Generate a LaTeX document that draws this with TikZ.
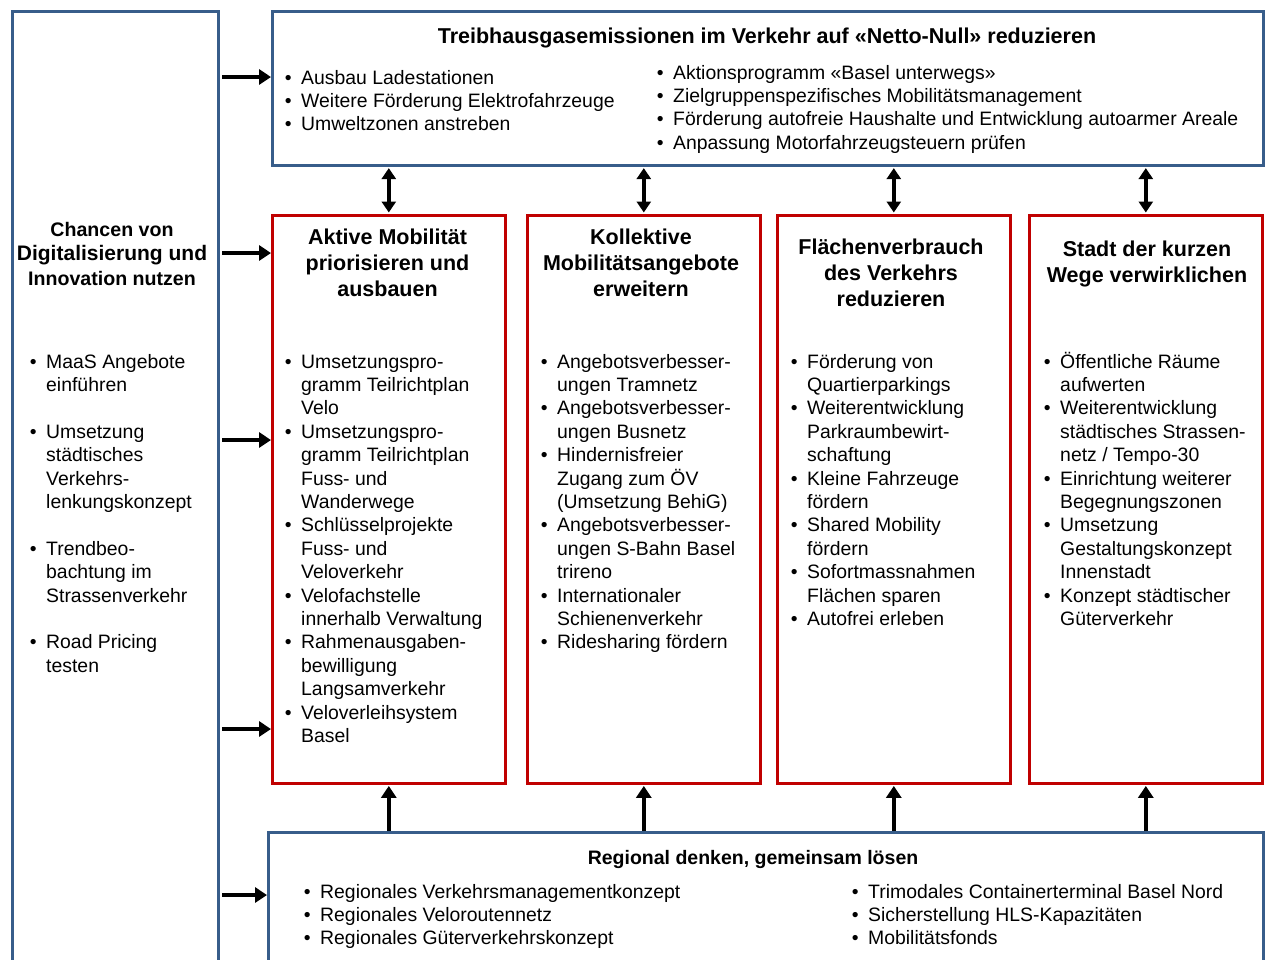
\documentclass[tikz,border=0pt]{standalone}
\usepackage{fontspec}
\setmainfont{Liberation Sans}
\usetikzlibrary{arrows.meta}

\definecolor{boxblue}{RGB}{56,93,138}
\definecolor{boxred}{RGB}{192,0,0}

% bullet hanging left of the item text
\newcommand{\itm}{\llap{\textbullet\hspace{9.5pt}}}

\tikzset{
  bluebox/.style={draw=boxblue, line width=2.6pt, anchor=north west, inner sep=0pt},
  redbox/.style={draw=boxred, line width=2.6pt, anchor=north west, inner sep=0pt,
    minimum width=233pt, minimum height=568pt},
  titletext/.style={font=\fontsize{21.5}{25.8}\selectfont\bfseries, align=center, anchor=base, inner sep=0pt},
  listtext/.style={font=\fontsize{19.4}{23.4}\selectfont, align=left, anchor=base west, inner sep=0pt},
  arr/.style={line width=4pt, -{Triangle[length=12pt,width=15pt]}},
  dblarr/.style={line width=3.5pt, {Triangle[length=11pt,width=14pt]}-{Triangle[length=11pt,width=14pt]}},
}

\begin{document}
\begin{tikzpicture}[x=1pt, y=-1pt]
\useasboundingbox (0,0) rectangle (1265,959);

% text nodes are placed at the baseline of their last line

%Left box: digitalisation
\node [bluebox, minimum width=206pt, minimum height=990pt] (digital) at (11,10) {};
\node [titletext, font=\fontsize{19.6}{24.5}\selectfont\bfseries] (digitaltitle) at (112,285)
  {Chancen von\\{\fontsize{21}{24.5}\selectfont Digitalisierung und}\\Innovation nutzen};
\node [listtext] (digitallist) at (46,672.2)
  {\itm MaaS Angebote\\einführen\\[23.4pt]
   \itm Umsetzung\\städtisches\\Verkehrs-\\lenkungskonzept\\[23.4pt]
   \itm Trendbeo-\\bachtung im\\Strassenverkehr\\[23.4pt]
   \itm Road Pricing\\testen};

%Top box: Netto-Null
\node [bluebox, minimum width=991pt, minimum height=154pt] (netto) at (271,10) {};
\node [titletext, font=\fontsize{21.5}{25}\selectfont\bfseries] (nettotitle) at (767,43)
  {Treibhausgasemissionen im Verkehr auf «Netto-Null» reduzieren};
\node [listtext] (nettolistA) at (301,130.8)
  {\itm Ausbau Ladestationen\\
   \itm Weitere Förderung Elektrofahrzeuge\\
   \itm Umweltzonen anstreben};
\node [listtext] (nettolistB) at (673,149.2)
  {\itm Aktionsprogramm «Basel unterwegs»\\
   \itm Zielgruppenspezifisches Mobilitätsmanagement\\
   \itm Förderung autofreie Haushalte und Entwicklung autoarmer Areale\\
   \itm Anpassung Motorfahrzeugsteuern prüfen};

%Red boxes
\node [redbox] (aktiv) at (271,214) {};
\node [redbox] (kollektiv) at (526,214) {};
\node [redbox] (flaeche) at (776,214) {};
\node [redbox] (stadt) at (1028,214) {};

%Aktive Mobilitaet
\node [titletext] (aktivtitle) at (387.5,296)
  {Aktive Mobilität\\priorisieren und\\ausbauen};
\node [listtext] (aktivlist) at (301,742.4)
  {\itm Umsetzungspro-\\gramm Teilrichtplan\\Velo\\
   \itm Umsetzungspro-\\gramm Teilrichtplan\\Fuss- und\\Wanderwege\\
   \itm Schlüsselprojekte\\Fuss- und\\Veloverkehr\\
   \itm Velofachstelle\\innerhalb Verwaltung\\
   \itm Rahmenausgaben-\\bewilligung\\Langsamverkehr\\
   \itm Veloverleihsystem\\Basel};

%Kollektive Mobilitaetsangebote
\node [titletext] (kollektivtitle) at (641,296)
  {Kollektive\\Mobilitätsangebote\\erweitern};
\node [listtext] (kollektivlist) at (557,648.8)
  {\itm Angebotsverbesser-\\ungen Tramnetz\\
   \itm Angebotsverbesser-\\ungen Busnetz\\
   \itm Hindernisfreier\\Zugang zum ÖV\\(Umsetzung BehiG)\\
   \itm Angebotsverbesser-\\ungen S-Bahn Basel\\trireno\\
   \itm Internationaler\\Schienenverkehr\\
   \itm Ridesharing fördern};

%Flaechenverbrauch
\node [titletext] (flaechetitle) at (891,306)
  {Flächenverbrauch\\des Verkehrs\\reduzieren};
\node [listtext] (flaechelist) at (807,625.4)
  {\itm Förderung von\\Quartierparkings\\
   \itm Weiterentwicklung\\Parkraumbewirt-\\schaftung\\
   \itm Kleine Fahrzeuge\\fördern\\
   \itm Shared Mobility\\fördern\\
   \itm Sofortmassnahmen\\Flächen sparen\\
   \itm Autofrei erleben};

%Stadt der kurzen Wege
\node [titletext] (stadttitle) at (1147,282)
  {Stadt der kurzen\\Wege verwirklichen};
\node [listtext] (stadtlist) at (1060,625.4)
  {\itm Öffentliche Räume\\aufwerten\\
   \itm Weiterentwicklung\\städtisches Strassen-\\netz / Tempo-30\\
   \itm Einrichtung weiterer\\Begegnungszonen\\
   \itm Umsetzung\\Gestaltungskonzept\\Innenstadt\\
   \itm Konzept städtischer\\Güterverkehr};

%Bottom box: regional
\node [bluebox, minimum width=995pt, minimum height=200pt] (regional) at (267,831) {};
\node [titletext, font=\fontsize{19.5}{23.4}\selectfont\bfseries] (regionaltitle) at (753,864)
  {Regional denken, gemeinsam lösen};
\node [listtext] (regionallistA) at (320,944.8)
  {\itm Regionales Verkehrsmanagementkonzept\\
   \itm Regionales Veloroutennetz\\
   \itm Regionales Güterverkehrskonzept};
\node [listtext] (regionallistB) at (868,944.8)
  {\itm Trimodales Containerterminal Basel Nord\\
   \itm Sicherstellung HLS-Kapazitäten\\
   \itm Mobilitätsfonds};

%Arrows from the left box
\draw [arr, shorten <=2.5pt] (digital.east |- 0,77) -- (netto.west |- 0,77);
\draw [arr, shorten <=2.5pt] (digital.east |- 0,253) -- (aktiv.west |- 0,253);
\draw [arr, shorten <=2.5pt] (digital.east |- 0,440) -- (aktiv.west |- 0,440);
\draw [arr, shorten <=2.5pt] (digital.east |- 0,729) -- (aktiv.west |- 0,729);
\draw [arr, shorten <=2.5pt] (digital.east |- 0,895) -- (regional.west |- 0,895);

%Double arrows to the top box
\draw [dblarr, shorten <=1.5pt, shorten >=1.5pt] (netto.south -| aktiv.north) -- (aktiv.north);
\draw [dblarr, shorten <=1.5pt, shorten >=1.5pt] (netto.south -| kollektiv.north) -- (kollektiv.north);
\draw [dblarr, shorten <=1.5pt, shorten >=1.5pt] (netto.south -| flaeche.north) -- (flaeche.north);
\draw [dblarr, shorten <=1.5pt, shorten >=1.5pt] (netto.south -| stadt.north) -- (stadt.north);

%Arrows from the bottom box
\draw [arr] (regional.north -| aktiv.south) -- ([yshift=-1.3pt]aktiv.south);
\draw [arr] (regional.north -| kollektiv.south) -- ([yshift=-1.3pt]kollektiv.south);
\draw [arr] (regional.north -| flaeche.south) -- ([yshift=-1.3pt]flaeche.south);
\draw [arr] (regional.north -| stadt.south) -- ([yshift=-1.3pt]stadt.south);

\end{tikzpicture}
\end{document}
